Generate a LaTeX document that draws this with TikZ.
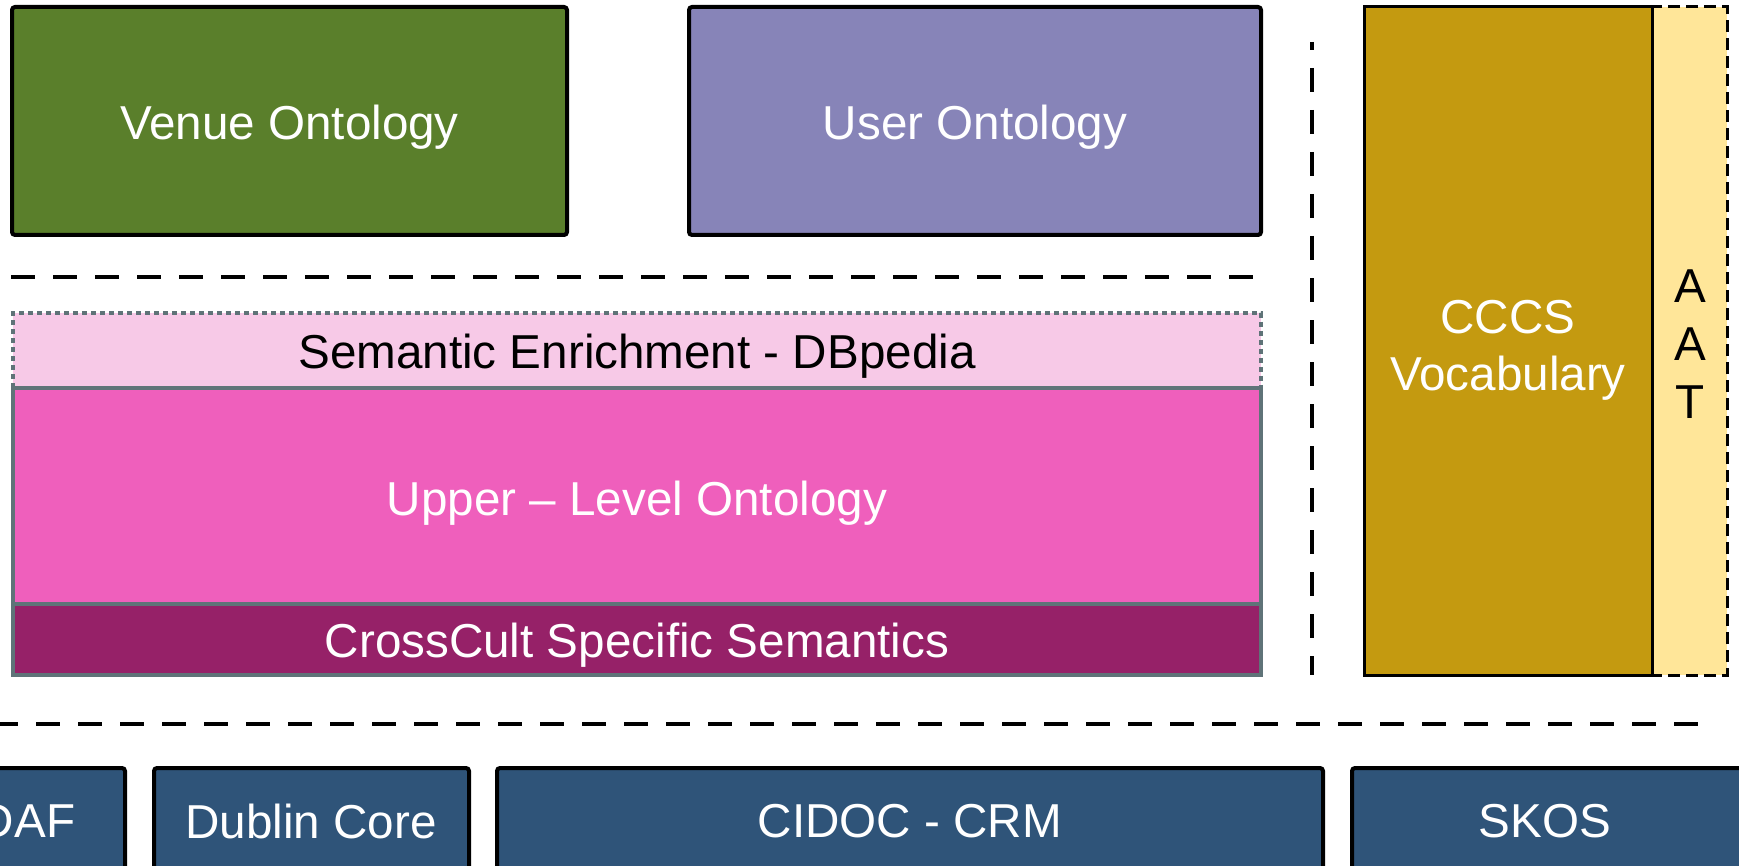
\documentclass[tikz,border=0pt]{standalone}
\usepackage{fontspec}
\setmainfont{Liberation Sans}
\definecolor{venueG}{HTML}{5A7F2B}
\definecolor{userP}{HTML}{8784B8}
\definecolor{semL}{HTML}{F7C9E7}
\definecolor{upperP}{HTML}{EF5FBC}
\definecolor{crossP}{HTML}{962168}
\definecolor{cccsY}{HTML}{C49A10}
\definecolor{aatY}{HTML}{FFE699}
\definecolor{baseB}{HTML}{2F5479}
\definecolor{edgeG}{HTML}{5F7378}
\tikzset{
  txt/.style={font=\fontsize{23.8}{28.5}\selectfont, inner sep=0pt, align=center},
  wtxt/.style={txt, text=white},
  btxt/.style={txt, text=black},
  topbox/.style={draw=black, line width=2pt, rounded corners=1.5pt},
  basebox/.style={draw=black, line width=2pt, rounded corners=1.5pt, fill=baseB},
  stackbox/.style={draw=edgeG, line width=1.7pt},
  sepline/.style={draw=black, line width=2.4pt, dash pattern=on 12pt off 9pt},
}
\begin{document}
\begin{tikzpicture}[x=0.5pt, y=-0.5pt]
\useasboundingbox (0,0) rectangle (1739,866);
\clip (0,0) rectangle (1739,866);
% top boxes
\draw[topbox, fill=venueG] (12,7) rectangle (567,235);
\node[wtxt] (venue) at (289.5,127) {Venue Ontology};
\draw[topbox, fill=userP] (689,7) rectangle (1261,235);
\node[wtxt] (user) at (975,127) {User Ontology};
% separator 1
\coordinate (s1a) at (11,277);
\coordinate (s1b) at (1256,277);
\draw[sepline] (s1a) -- (s1b);
% pink stack
\fill[semL] (13,313) rectangle (1261,388);
\draw[draw=edgeG, line width=1.7pt, dash pattern=on 2.5pt off 2pt] (13,388) -- (13,313) -- (1261,313) -- (1261,388);
\node[btxt] (sem) at (637,356) {Semantic Enrichment - DBpedia};
\draw[stackbox, fill=upperP] (13,388) rectangle (1261,604);
\node[wtxt] (upper) at (637,503) {Upper – Level Ontology};
\draw[stackbox, fill=crossP] (13,604) rectangle (1261,675);
\node[wtxt] (cross) at (637,645) {CrossCult Specific Semantics};
\draw[draw=edgeG, line width=1.7pt, dash pattern=on 2.5pt off 2pt] (13,388) -- (1261,388);
% vertical separator
\coordinate (v1a) at (1312,42);
\coordinate (v1b) at (1312,675);
\draw[sepline, dash phase=8pt] (v1a) -- (v1b);
% CCCS and AAT
\draw[fill=aatY, draw=black, line width=1.5pt, dash pattern=on 6pt off 3pt] (1652,7) rectangle (1727,675);
\draw[fill=cccsY, draw=black, line width=1.5pt] (1364,7) rectangle (1652,675);
\node[wtxt] (cccs) at (1508,350) {CCCS\\Vocabulary};
\node[btxt, font=\fontsize{23.8}{29}\selectfont] (aat) at (1690,344) {A\\A\\T};
% separator 2
\coordinate (s2a) at (0,724);
\coordinate (s2b) at (1704,724);
\draw[sepline, dash phase=3pt] (s2a) -- (s2b);
% base boxes
\draw[basebox] (-70,768) rectangle (125,900);
\node[wtxt] (daf) at (27.5,821) {DAF};
\draw[basebox] (154,768) rectangle (469,900);
\node[wtxt] (dc) at (311,821) {Dublin Core};
\draw[basebox] (497,768) rectangle (1323,900);
\node[wtxt] (cidoc) at (910,821) {CIDOC - CRM};
\draw[basebox] (1352,768) rectangle (1745,900);
\node[wtxt] (skos) at (1545,821) {SKOS};
\end{tikzpicture}
\end{document}
